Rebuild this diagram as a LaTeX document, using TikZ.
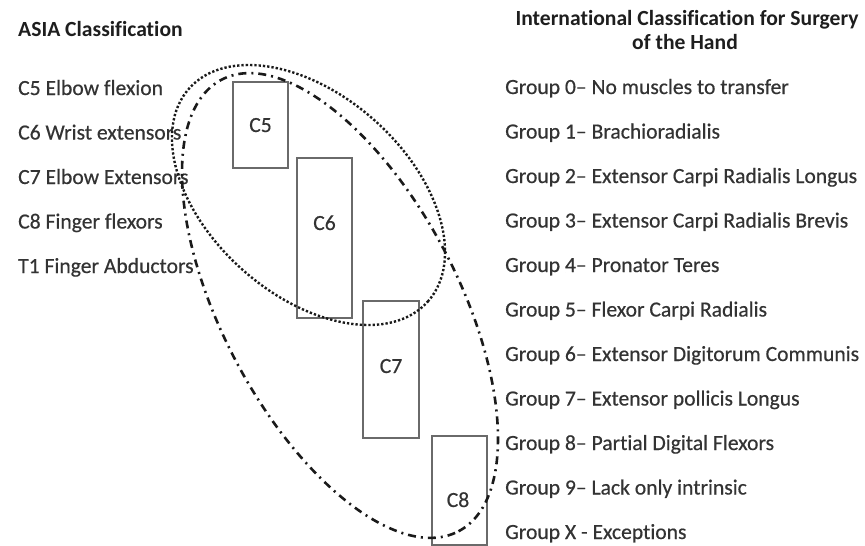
\documentclass[tikz,border=0pt]{standalone}
\usepackage{fontspec}
\setmainfont{Carlito}[Ligatures=NoCommon]
\definecolor{txt}{HTML}{333333}
\definecolor{head}{HTML}{1E1E1E}
\definecolor{boxc}{HTML}{6A6A6A}
\definecolor{ell}{HTML}{1A1A1A}
\newcommand{\mainsz}{\fontsize{21.6}{26}\selectfont\addfontfeature{FakeBold=0.5}}
\tikzset{
  lefttxt/.style={anchor=base west, inner sep=0pt, text=txt, font=\mainsz},
  righttxt/.style={anchor=base west, inner sep=0pt, text=txt, font=\mainsz},
  headtxt/.style={anchor=base, inner sep=0pt, text=head, font=\fontsize{21.6}{26}\selectfont\bfseries},
  levelbox/.style={draw=boxc, line width=1.5pt, rectangle, inner sep=0pt},
  boxlabel/.style={anchor=base, inner sep=0pt, text=txt, font=\mainsz},
  dottedell/.style={draw=ell, line width=2.4pt, dash pattern=on 2.3pt off 2.0pt},
  dashdotell/.style={draw=ell, line width=2.6pt, dash pattern=on 8pt off 5pt on 2pt off 5pt},
}
\begin{document}
\begin{tikzpicture}[x=1pt,y=-1pt]
\useasboundingbox (0,0) rectangle (865,546);
% headings
\node[headtxt, anchor=base west] (asia) at (18,36) {ASIA Classification};
\node[headtxt] (ich1) at (687,25) {International Classification for Surgery};
\node[headtxt] (ich2) at (685,49) {of the Hand};
% left list
\node[lefttxt] (l5) at (18,95) {C5 Elbow flexion};
\node[lefttxt] (l6) at (18,139.5) {C6 Wrist extensors};
\node[lefttxt] (l7) at (18,184) {C7 Elbow Extensors};
\node[lefttxt] (l8) at (18,228.5) {C8 Finger flexors};
\node[lefttxt] (l9) at (18,273) {T1 Finger Abductors};
% right list
\node[righttxt] (g0) at (505,94) {Group 0– No muscles to transfer};
\node[righttxt] (g1) at (505,138.5) {Group 1– Brachioradialis};
\node[righttxt] (g2) at (505,183) {Group 2– Extensor Carpi Radialis Longus};
\node[righttxt] (g3) at (505,227.5) {Group 3– Extensor Carpi Radialis Brevis};
\node[righttxt] (g4) at (505,272) {Group 4– Pronator Teres};
\node[righttxt] (g5) at (505,316.5) {Group 5– Flexor Carpi Radialis};
\node[righttxt] (g6) at (505,361) {Group 6– Extensor Digitorum Communis};
\node[righttxt] (g7) at (505,405.5) {Group 7– Extensor pollicis Longus};
\node[righttxt] (g8) at (505,450) {Group 8– Partial Digital Flexors};
\node[righttxt] (g9) at (505,494.5) {Group 9– Lack only intrinsic};
\node[righttxt] (gx) at (505,539) {Group X - Exceptions};
% boxes
\node[levelbox, minimum width=55pt, minimum height=86pt] (b5) at (260.5,125) {};
\node[levelbox, minimum width=55pt, minimum height=160pt] (b6) at (324.5,238) {};
\node[levelbox, minimum width=56pt, minimum height=137pt] (b7) at (391,369.5) {};
\node[levelbox, minimum width=55pt, minimum height=109pt] (b8) at (459.5,490.5) {};
\node[boxlabel] (t5) at (260.5,132) {C5};
\node[boxlabel] (t6) at (324.5,230) {C6};
\node[boxlabel] (t7) at (391,373) {C7};
\node[boxlabel] (t8) at (458,507) {C8};
% ellipses
\begin{scope}[shift={(308.5,195)}, rotate=-41.8]
  \draw[dottedell] (0,0) ellipse [x radius=160pt, y radius=99.7pt];
\end{scope}
\begin{scope}[shift={(340,305.5)}, rotate=-62.3]
  \draw[dashdotell] (0,0) ellipse [x radius=255pt, y radius=118pt];
\end{scope}
\end{tikzpicture}
\end{document}
